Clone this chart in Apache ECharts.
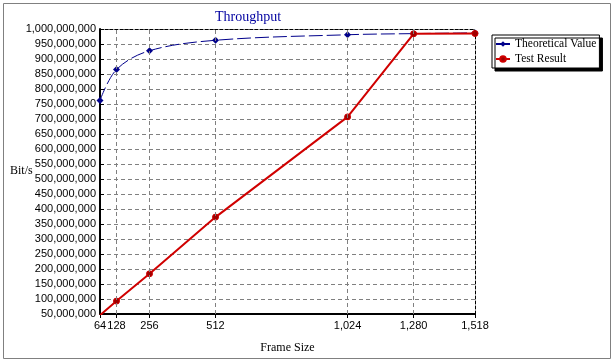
<!DOCTYPE html>
<html>
<head>
<meta charset="utf-8">
<script src="https://cdn.jsdelivr.net/npm/echarts@6/dist/echarts.min.js"></script>
<style>
html,body{margin:0;padding:0;background:#fff;}
#c{width:615px;height:359px;}
</style>
</head>
<body>
<div id="c"></div>
<script>
const frameSizes = [64, 128, 256, 512, 1024, 1280, 1518];
const theoretical = [761904762, 864864865, 927536232, 962406015, 980842912, 984615385, 987012987];
const testResult = [46000000, 93000000, 184000000, 373000000, 707000000, 984000000, 985000000];
const yMin = 50000000, yMax = 1000000000, yStep = 50000000;
const xMin = 64, xMax = 1518;

function fmt(v){ return String(Math.round(v)).replace(/\B(?=(\d{3})+(?!\d))/g, ','); }

const chart = echarts.init(document.getElementById('c'), null, {renderer:'canvas'});
const labelFont = {fontFamily:'Liberation Sans, Arial, sans-serif', fontSize:11, color:'#000'};
const serif = 'Liberation Serif, Times New Roman, serif';

chart.setOption({
  animation:false,
  backgroundColor:'#fff',
  title:{text:'Throughput', left:210, top:5, textStyle:{fontFamily:serif, fontSize:14, fontWeight:'normal', color:'#0000A0'}},
  legend:{
    left:492, top:35, orient:'vertical', padding:[3,3,3,3], itemGap:3, itemWidth:14, itemHeight:7,
    backgroundColor:'#fff', borderColor:'#000', borderWidth:1,
    shadowColor:'#000', shadowOffsetX:3, shadowOffsetY:3, shadowBlur:0,
    textStyle:{fontFamily:serif, fontSize:11.5, color:'#000'},
    data:['Theoretical Value','Test Result']
  },
  grid:{left:100, right:140, top:29, bottom:44, containLabel:false},
  xAxis:[{
    type:'value', min:xMin, max:xMax,
    name:'Frame Size', nameLocation:'middle', nameGap:28,
    nameTextStyle:{fontFamily:serif, fontSize:12, color:'#000'},
    axisLine:{show:true, onZero:false, lineStyle:{color:'#000', width:2}},
    axisTick:{show:true, customValues:frameSizes, length:4, lineStyle:{color:'#000'}},
    axisLabel:{customValues:frameSizes, formatter:fmt, margin:6, ...labelFont},
    splitLine:{show:false}
  },{
    type:'value', position:'top', min:xMin, max:xMax,
    axisLine:{show:true, onZero:false, lineStyle:{color:'#000', width:1, type:[3,2]}},
    axisTick:{show:false}, axisLabel:{show:false}, splitLine:{show:false}
  }],
  yAxis:[{
    type:'value', min:yMin, max:yMax, interval:yStep,
    axisLine:{show:true, onZero:false, lineStyle:{color:'#000', width:2}},
    axisTick:{show:true, inside:true, length:4, lineStyle:{color:'#000'}},
    axisLabel:{formatter:fmt, margin:4, ...labelFont},
    splitLine:{show:true, lineStyle:{color:'#808080', type:[4,3], width:1}}
  },{
    type:'value', position:'right', min:yMin, max:yMax, interval:yStep,
    axisLine:{show:true, onZero:false, lineStyle:{color:'#000', width:1, type:[3,2]}},
    axisTick:{show:false}, axisLabel:{show:false}, splitLine:{show:false}
  }],
  graphic:[
    {type:'rect', left:1, top:1, shape:{width:607, height:355}, style:{fill:'none', stroke:'#808080', lineWidth:1}, silent:true},
    {type:'text', left:10, top:165, style:{text:'Bit/s', font:'12px '+serif, fill:'#000'}}
  ],
  series:[
    {
      name:'Theoretical Value', type:'line', xAxisIndex:0, yAxisIndex:0,
      data:frameSizes.map((x,i)=>[x, theoretical[i]]),
      smooth:0.35, symbol:'diamond', symbolSize:7,
      lineStyle:{color:'#00008B', width:1, type:[14,4]},
      itemStyle:{color:'#00008B'},
      markLine:{
        silent:true, symbol:'none', label:{show:false},
        lineStyle:{color:'#808080', type:[4,3], width:1},
        data:frameSizes.slice(1, -1).map(x=>({xAxis:x}))
      },
      z:3
    },
    {
      name:'Test Result', type:'line', xAxisIndex:0, yAxisIndex:0,
      data:frameSizes.map((x,i)=>[x, testResult[i]]),
      symbol:'circle', symbolSize:6,
      lineStyle:{color:'#D00000', width:2},
      itemStyle:{color:'#A00000', borderColor:'#D00000', borderWidth:1},
      z:4
    }
  ]
});
</script>
</body>
</html>
